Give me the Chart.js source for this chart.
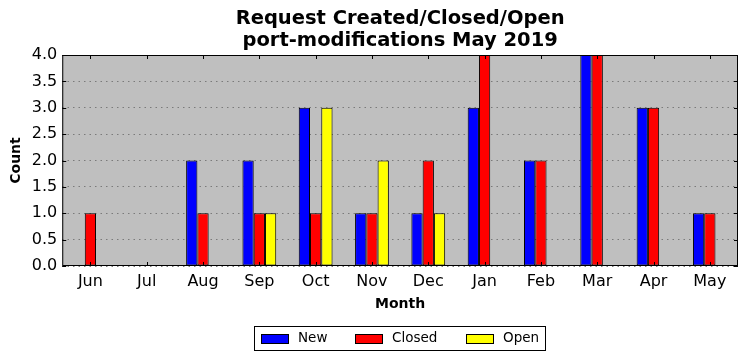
<!DOCTYPE html>
<html>
<head>
<meta charset="utf-8">
<script src="https://cdn.jsdelivr.net/npm/chart.js@4/dist/chart.umd.min.js"></script>
<style>
html,body{margin:0;padding:0;background:#fff}
#wrap{width:747px;height:361px;position:relative}
</style>
</head>
<body>
<div id="wrap"><canvas id="c"></canvas></div>
<script>
// data
const months=['Jun','Jul','Aug','Sep','Oct','Nov','Dec','Jan','Feb','Mar','Apr','May'];
const newReq=[0,0,2,2,3,1,1,3,2,4,3,1];
const closedReq=[1,0,1,1,1,1,2,4,2,4,3,1];
const openReq=[0,0,0,1,3,2,1,0,0,0,0,0];
const yTicks=[0,0.5,1,1.5,2,2.5,3,3.5,4];
const titleLines=['Request Created/Closed/Open','port-modifications May 2019'];

const FONT='"DejaVu Sans", sans-serif';

// plot bg, inner ticks, title + boxed legend centred on the axes (matplotlib classic look)
const frame={
  id:'frame',
  beforeDraw(ch){
    let a=ch.chartArea,c=ch.ctx;
    c.save();c.fillStyle='#bfbfbf';c.fillRect(a.left,a.top,a.right-a.left,a.bottom-a.top);c.restore();
  },
  afterDatasetsDraw(ch){
    let a=ch.chartArea,c=ch.ctx,x=ch.scales.x,y=ch.scales.y;
    c.save();c.strokeStyle='#000';c.lineWidth=1;
    c.beginPath();
    x.ticks.forEach((t,i)=>{let px=Math.round(x.getPixelForTick(i))+0.5;
      c.moveTo(px,a.bottom);c.lineTo(px,a.bottom-4);c.moveTo(px,a.top);c.lineTo(px,a.top+4);});
    y.ticks.forEach((t,i)=>{let py=Math.round(y.getPixelForTick(i))+0.5;
      c.moveTo(a.left,py);c.lineTo(a.left+4,py);c.moveTo(a.right,py);c.lineTo(a.right-4,py);});
    c.stroke();
    c.strokeRect(a.left+0.5,a.top+0.5,a.right-a.left-1,a.bottom-a.top-1);
    c.restore();
  },
  afterDraw(ch){
    let a=ch.chartArea,c=ch.ctx,sets=ch.data.datasets,mid=(a.left+a.right)/2;
    c.save();
    // title
    c.fillStyle='#000';c.textAlign='center';c.textBaseline='middle';
    c.font='bold 19.5px '+FONT;
    titleLines.forEach((t,i)=>c.fillText(t,mid,19+i*22));
    // legend
    c.textAlign='left';
    c.font='13.5px '+FONT;
    let mw=28,mh=10,gap=9,sep=28,pad=7;
    let widths=sets.map(d=>mw+gap+c.measureText(d.label).width);
    let total=Math.round(widths.reduce((s,w)=>s+w,0)+sep*(sets.length-1)+pad*2);
    let bx=Math.round(mid-total/2),by=326,bh=25;
    c.fillStyle='#fff';c.fillRect(bx,by,total,bh);
    c.strokeStyle='#000';c.lineWidth=1;c.strokeRect(bx+0.5,by+0.5,total-1,bh-1);
    let cx=bx+pad,cy=by+bh/2;
    sets.forEach((d,i)=>{
      let px=Math.round(cx);
      c.fillStyle=d.backgroundColor;c.fillRect(px,Math.round(cy-mh/2),mw,mh);
      c.strokeRect(px+0.5,Math.round(cy-mh/2)+0.5,mw-1,mh-1);
      c.fillStyle='#000';c.fillText(d.label,px+mw+gap,cy);
      cx+=widths[i]+sep;
    });
    c.restore();
  }
};

const ds=(label,data,color)=>({label,data,backgroundColor:color,borderColor:'#000',borderWidth:1,borderSkipped:false});

new Chart(document.getElementById('c'),{
  type:'bar',
  data:{labels:months,datasets:[ds('New',newReq,'#0000ff'),ds('Closed',closedReq,'#ff0000'),ds('Open',openReq,'#ffff00')]},
  options:{
    responsive:true,maintainAspectRatio:false,animation:false,
    layout:{padding:{left:4,right:9,top:55,bottom:48}},
    datasets:{bar:{categoryPercentage:0.6,barPercentage:1}},
    plugins:{
      title:{display:false},
      legend:{display:false},
      tooltip:{enabled:false}
    },
    scales:{
      x:{grid:{display:false,drawTicks:false},border:{display:false},
        ticks:{color:'#000',font:{family:FONT,size:16},padding:6},
        title:{display:true,text:'Month',color:'#000',font:{family:FONT,size:14,weight:'bold'},padding:{top:-1,bottom:0}}},
      y:{min:0,max:4,
        afterBuildTicks(s){s.ticks=yTicks.map(v=>({value:v}));},
        grid:{color:'#7a7a7a',lineWidth:1,drawTicks:false},
        border:{display:false,dash:[1.5,4]},
        ticks:{color:'#000',font:{family:FONT,size:16},padding:5,callback:v=>v.toFixed(1)},
        title:{display:true,text:'Count',color:'#000',font:{family:FONT,size:14,weight:'bold'},padding:{top:4,bottom:2}}}
    }
  },
  plugins:[frame]
});
</script>
</body>
</html>
